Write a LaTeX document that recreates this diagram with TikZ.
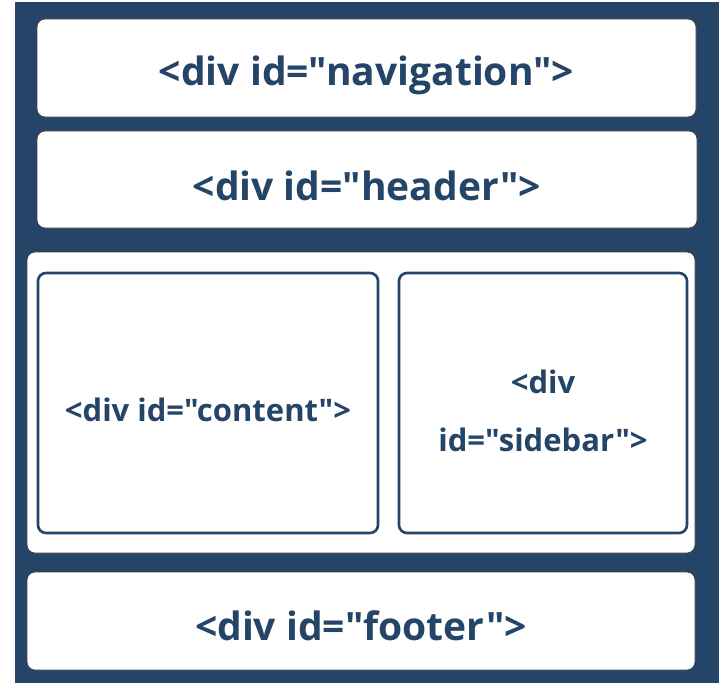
\documentclass[tikz,border=0pt]{standalone}
\usepackage{fontspec}
\setmainfont{Open Sans}[Ligatures=TeXOff]
\usetikzlibrary{positioning}
\definecolor{navy}{RGB}{36,69,103}

\begin{document}
\begin{tikzpicture}[x=1pt, y=-1pt, font=\bfseries, text=navy,
  panel/.style={draw=black!75, line width=0.8pt, fill=white, rounded corners=8pt,
    anchor=north west, outer sep=0pt, inner sep=0pt},
  inbox/.style={draw=navy, line width=2.6pt, fill=white, rounded corners=8pt,
    anchor=north west, outer sep=0pt, inner sep=0pt},
  bigtxt/.style={font=\fontsize{39}{46}\bfseries, inner sep=0pt},
  smalltxt/.style={font=\fontsize{31}{58}\bfseries, inner sep=0pt, align=center}]
\useasboundingbox (0,0) rectangle (719,683);
\fill[navy] (15,2) rectangle (719,683);
% full-width rows
\node[panel, minimum width=659pt, minimum height=98pt] (nav) at (37,19) {};
\node[panel, minimum width=660pt, minimum height=97pt] (head) at (37,131) {};
\node[panel, minimum width=668pt, minimum height=301pt] (main) at (27,252) {};
\node[panel, minimum width=668pt, minimum height=98pt] (foot) at (27,572) {};
% two columns inside main
\node[inbox, minimum width=340pt, minimum height=260pt] (content) at (38,273) {};
\node[inbox, minimum width=288pt, minimum height=260pt] (side) at (399,273) {};
% labels
\node[bigtxt] (navtxt) at ([yshift=-7pt]nav.center) {<div id="navigation">};
\node[bigtxt] (headtxt) at ([yshift=-6pt]head.center) {<div id="header">};
\node[bigtxt] (foottxt) at ([yshift=-5pt]foot.center) {<div id="footer">};
\node[smalltxt] (contenttxt) at ([yshift=-7pt]content.center) {<div id="content">};
\node[smalltxt] (sidetxt) at ([yshift=-8pt]side.center) {<div\\id="sidebar">};
\end{tikzpicture}
\end{document}
